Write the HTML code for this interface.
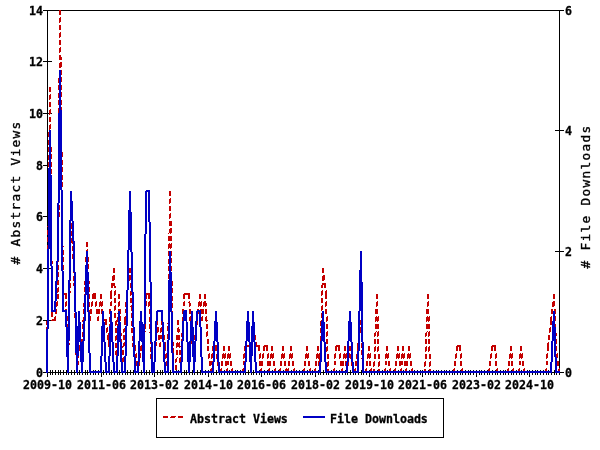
<!DOCTYPE html><html><head><meta charset="utf-8"><title>Abstract Views and File Downloads</title>
<style>html,body{margin:0;padding:0;background:#fff}svg{display:block}text{font-family:"DejaVu Sans Mono","Liberation Mono",monospace;font-weight:bold;fill:#000;stroke:#000;stroke-width:.3px}.t{font-weight:normal;stroke:#000;stroke-width:.35px}</style></head><body>
<svg width="600" height="450" viewBox="0 0 600 450">
<rect width="600" height="450" fill="#fff"/>
<g stroke="#000" stroke-width="1" shape-rendering="crispEdges" fill="none">
<rect x="47.5" y="10.5" width="512" height="362"/>
<path d="M43 372.5H52M43 320.5H52M43 268.5H52M43 216.5H52M43 165.5H52M43 113.5H52M43 61.5H52M43 10.5H52M555 372.5H564M555 251.5H564M555 130.5H564M555 10.5H564M47.5 370V377M50.5 370V375M52.5 370V375M55.5 370V375M58.5 370V375M60.5 370V375M63.5 370V375M66.5 370V375M68.5 370V375M71.5 370V375M74.5 370V375M77.5 370V375M79.5 370V375M82.5 370V375M85.5 370V375M87.5 370V375M90.5 370V375M93.5 370V375M95.5 370V375M98.5 370V375M101.5 370V377M103.5 370V375M106.5 370V375M109.5 370V375M111.5 370V375M114.5 370V375M117.5 370V375M119.5 370V375M122.5 370V375M125.5 370V375M127.5 370V375M130.5 370V375M133.5 370V375M135.5 370V375M138.5 370V375M141.5 370V375M144.5 370V375M146.5 370V375M149.5 370V375M152.5 370V375M154.5 370V377M157.5 370V375M160.5 370V375M162.5 370V375M165.5 370V375M168.5 370V375M170.5 370V375M173.5 370V375M176.5 370V375M178.5 370V375M181.5 370V375M184.5 370V375M186.5 370V375M189.5 370V375M192.5 370V375M194.5 370V375M197.5 370V375M200.5 370V375M202.5 370V375M205.5 370V375M208.5 370V377M211.5 370V375M213.5 370V375M216.5 370V375M219.5 370V375M221.5 370V375M224.5 370V375M227.5 370V375M229.5 370V375M232.5 370V375M235.5 370V375M237.5 370V375M240.5 370V375M243.5 370V375M245.5 370V375M248.5 370V375M251.5 370V375M253.5 370V375M256.5 370V375M259.5 370V375M261.5 370V377M264.5 370V375M267.5 370V375M269.5 370V375M272.5 370V375M275.5 370V375M278.5 370V375M280.5 370V375M283.5 370V375M286.5 370V375M288.5 370V375M291.5 370V375M294.5 370V375M296.5 370V375M299.5 370V375M302.5 370V375M304.5 370V375M307.5 370V375M310.5 370V375M312.5 370V375M315.5 370V377M318.5 370V375M320.5 370V375M323.5 370V375M326.5 370V375M328.5 370V375M331.5 370V375M334.5 370V375M336.5 370V375M339.5 370V375M342.5 370V375M345.5 370V375M347.5 370V375M350.5 370V375M353.5 370V375M355.5 370V375M358.5 370V375M361.5 370V375M363.5 370V375M366.5 370V375M369.5 370V377M371.5 370V375M374.5 370V375M377.5 370V375M379.5 370V375M382.5 370V375M385.5 370V375M387.5 370V375M390.5 370V375M393.5 370V375M395.5 370V375M398.5 370V375M401.5 370V375M403.5 370V375M406.5 370V375M409.5 370V375M412.5 370V375M414.5 370V375M417.5 370V375M420.5 370V375M422.5 370V377M425.5 370V375M428.5 370V375M430.5 370V375M433.5 370V375M436.5 370V375M438.5 370V375M441.5 370V375M444.5 370V375M446.5 370V375M449.5 370V375M452.5 370V375M454.5 370V375M457.5 370V375M460.5 370V375M462.5 370V375M465.5 370V375M468.5 370V375M470.5 370V375M473.5 370V375M476.5 370V377M479.5 370V375M481.5 370V375M484.5 370V375M487.5 370V375M489.5 370V375M492.5 370V375M495.5 370V375M497.5 370V375M500.5 370V375M503.5 370V375M505.5 370V375M508.5 370V375M511.5 370V375M513.5 370V375M516.5 370V375M519.5 370V375M521.5 370V375M524.5 370V375M527.5 370V375M529.5 370V377M532.5 370V375M535.5 370V375M537.5 370V375M540.5 370V375M543.5 370V375M546.5 370V375M548.5 370V375M551.5 370V375M554.5 370V375M556.5 370V375M559.5 370V375"/>
<rect x="156.5" y="398.5" width="287" height="39"/>
</g>
<g fill="none" shape-rendering="crispEdges" stroke-linecap="butt">
<path stroke="#c40000" stroke-width="1" stroke-dasharray="5 3 5 2" d="M49.49 87L46.47 373M49.52 87L51.52 321M52 319.5L56 319.5M57.54 294L54.42 321M59.48 10L57.48 295M59.51 10L62.53 295M63 293.5L67 293.5M65.51 294L67.53 373M70.49 216L67.47 373M70.49 216L73.55 269M73.51 268L76.53 373M78.52 346L76.44 373M79 345.5L83 345.5M84.51 294L81.45 347M86.5 242L84.46 295M86.5 242L89.54 321M92.54 294L89.42 321M93 293.5L96 293.5M94.46 294L97.58 321M100.54 294L97.42 321M100.48 294L102.56 321M103 319.5L107 319.5M105.46 320L108.58 347M110.5 294L108.46 347M113.54 268L110.42 295M113.51 268L116.53 373M118.49 294L116.47 373M118.5 294L121.54 373M124.51 320L121.45 373M126.52 294L124.44 321M129.54 268L126.42 295M129.5 268L132.54 347M133 345.5L136 345.5M134.46 346L137.58 373M140.54 346L137.42 373M141 345.5L145 345.5M145.5 294L143.46 347M146 293.5L150 293.5M148.5 294L151.54 373M152 371.5L155 371.5M156.51 320L153.45 373M156.46 320L159.58 347M161.52 320L159.44 347M161.46 320L164.58 347M164.46 346L167.58 373M169.49 191L167.47 373M169.51 191L172.53 373M173 371.5L177 371.5M177.5 320L175.46 373M177.49 320L180.55 373M183.5 294L180.46 373M184 293.5L187 293.5M186 293.5L190 293.5M188.49 294L191.55 347M192 345.5L195 345.5M196.54 320L193.42 347M199.54 294L196.42 321M199.48 294L201.56 321M204.54 294L201.42 321M204.49 294L207.55 347M207.46 346L210.58 373M212.52 346L210.44 373M213 345.5L217 345.5M215.46 346L218.58 373M219 371.5L222 371.5M223.54 346L220.42 373M223.46 346L226.58 373M228.52 346L226.44 373M228.46 346L231.58 373M232 371.5L236 371.5M235 371.5L238 371.5M237 371.5L241 371.5M240 371.5L244 371.5M244.52 346L242.44 373M245 345.5L249 345.5M248 345.5L252 345.5M252.52 320L250.44 347M252.46 320L255.58 347M256 345.5L260 345.5M258.48 346L260.56 373M263.54 346L260.42 373M264 345.5L268 345.5M266.48 346L268.56 373M271.54 346L268.42 373M271.46 346L274.58 373M275 371.5L279 371.5M278 371.5L281 371.5M282.54 346L279.42 373M282.46 346L285.58 373M286 371.5L289 371.5M290.54 346L287.42 373M290.46 346L293.58 373M294 371.5L297 371.5M296 371.5L300 371.5M299 371.5L303 371.5M302 371.5L305 371.5M306.54 346L303.42 373M306.46 346L309.58 373M310 371.5L313 371.5M312 371.5L316 371.5M317.54 346L314.42 373M317.48 346L319.56 373M322.49 268L319.47 373M322.46 268L325.58 295M325.51 294L327.53 373M328 371.5L332 371.5M331 371.5L335 371.5M335.52 346L333.44 373M336 345.5L340 345.5M338.46 346L341.58 373M344.54 346L341.42 373M344.48 346L346.56 373M349.54 346L346.42 373M349.46 346L352.58 373M353 371.5L356 371.5M357.54 346L354.42 373M360.54 320L357.42 347M360.5 320L362.54 373M363 371.5L367 371.5M368.54 346L365.42 373M368.48 346L370.56 373M371 371.5L375 371.5M376.5 294L373.46 373M376.51 294L378.53 373M379 371.5L383 371.5M382 371.5L386 371.5M386.52 346L384.44 373M386.46 346L389.58 373M390 371.5L394 371.5M393 371.5L396 371.5M397.54 346L394.42 373M397.46 346L400.58 373M402.52 346L400.44 373M402.46 346L405.58 373M408.54 346L405.42 373M408.46 346L411.58 373M412 371.5L415 371.5M414 371.5L418 371.5M417 371.5L421 371.5M420 371.5L423 371.5M422 371.5L426 371.5M427.5 294L424.46 373M427.51 294L429.53 373M430 371.5L434 371.5M433 371.5L437 371.5M436 371.5L439 371.5M438 371.5L442 371.5M441 371.5L445 371.5M444 371.5L447 371.5M446 371.5L450 371.5M449 371.5L453 371.5M452 371.5L455 371.5M456.54 346L453.42 373M457 345.5L461 345.5M459.48 346L461.56 373M462 371.5L466 371.5M465 371.5L469 371.5M468 371.5L471 371.5M470 371.5L474 371.5M473 371.5L477 371.5M476 371.5L480 371.5M479 371.5L482 371.5M481 371.5L485 371.5M484 371.5L488 371.5M487 371.5L490 371.5M491.54 346L488.42 373M492 345.5L496 345.5M494.48 346L496.56 373M497 371.5L501 371.5M500 371.5L504 371.5M503 371.5L506 371.5M505 371.5L509 371.5M510.54 346L507.42 373M510.48 346L512.56 373M513 371.5L517 371.5M516 371.5L520 371.5M520.52 346L518.44 373M520.46 346L523.58 373M524 371.5L528 371.5M527 371.5L530 371.5M529 371.5L533 371.5M532 371.5L536 371.5M535 371.5L538 371.5M537 371.5L541 371.5M540 371.5L544 371.5M543 371.5L547 371.5M547.52 346L545.44 373M550.54 320L547.42 347M553.54 294L550.42 321M553.5 294L555.54 347M555.46 346L558.58 373"/>
<path stroke="#c40000" stroke-width="1" stroke-dasharray="5 2 5 3" d="M50.49 87L47.47 373M50.52 87L52.52 321M52 320.5L56 320.5M58.54 294L55.42 321M60.48 10L58.48 295M60.51 10L63.53 295M63 294.5L67 294.5M66.51 294L68.53 373M71.49 216L68.47 373M71.49 216L74.55 269M74.51 268L77.53 373M79.52 346L77.44 373M79 346.5L83 346.5M85.51 294L82.45 347M87.5 242L85.46 295M87.5 242L90.54 321M93.54 294L90.42 321M93 294.5L96 294.5M95.46 294L98.58 321M101.54 294L98.42 321M101.48 294L103.56 321M103 320.5L107 320.5M106.46 320L109.58 347M111.5 294L109.46 347M114.54 268L111.42 295M114.51 268L117.53 373M119.49 294L117.47 373M119.5 294L122.54 373M125.51 320L122.45 373M127.52 294L125.44 321M130.54 268L127.42 295M130.5 268L133.54 347M133 346.5L136 346.5M135.46 346L138.58 373M141.54 346L138.42 373M141 346.5L145 346.5M146.5 294L144.46 347M146 294.5L150 294.5M149.5 294L152.54 373M152 372.5L155 372.5M157.51 320L154.45 373M157.46 320L160.58 347M162.52 320L160.44 347M162.46 320L165.58 347M165.46 346L168.58 373M170.49 191L168.47 373M170.51 191L173.53 373M173 372.5L177 372.5M178.5 320L176.46 373M178.49 320L181.55 373M184.5 294L181.46 373M184 294.5L187 294.5M186 294.5L190 294.5M189.49 294L192.55 347M192 346.5L195 346.5M197.54 320L194.42 347M200.54 294L197.42 321M200.48 294L202.56 321M205.54 294L202.42 321M205.49 294L208.55 347M208.46 346L211.58 373M213.52 346L211.44 373M213 346.5L217 346.5M216.46 346L219.58 373M219 372.5L222 372.5M224.54 346L221.42 373M224.46 346L227.58 373M229.52 346L227.44 373M229.46 346L232.58 373M232 372.5L236 372.5M235 372.5L238 372.5M237 372.5L241 372.5M240 372.5L244 372.5M245.52 346L243.44 373M245 346.5L249 346.5M248 346.5L252 346.5M253.52 320L251.44 347M253.46 320L256.58 347M256 346.5L260 346.5M259.48 346L261.56 373M264.54 346L261.42 373M264 346.5L268 346.5M267.48 346L269.56 373M272.54 346L269.42 373M272.46 346L275.58 373M275 372.5L279 372.5M278 372.5L281 372.5M283.54 346L280.42 373M283.46 346L286.58 373M286 372.5L289 372.5M291.54 346L288.42 373M291.46 346L294.58 373M294 372.5L297 372.5M296 372.5L300 372.5M299 372.5L303 372.5M302 372.5L305 372.5M307.54 346L304.42 373M307.46 346L310.58 373M310 372.5L313 372.5M312 372.5L316 372.5M318.54 346L315.42 373M318.48 346L320.56 373M323.49 268L320.47 373M323.46 268L326.58 295M326.51 294L328.53 373M328 372.5L332 372.5M331 372.5L335 372.5M336.52 346L334.44 373M336 346.5L340 346.5M339.46 346L342.58 373M345.54 346L342.42 373M345.48 346L347.56 373M350.54 346L347.42 373M350.46 346L353.58 373M353 372.5L356 372.5M358.54 346L355.42 373M361.54 320L358.42 347M361.5 320L363.54 373M363 372.5L367 372.5M369.54 346L366.42 373M369.48 346L371.56 373M371 372.5L375 372.5M377.5 294L374.46 373M377.51 294L379.53 373M379 372.5L383 372.5M382 372.5L386 372.5M387.52 346L385.44 373M387.46 346L390.58 373M390 372.5L394 372.5M393 372.5L396 372.5M398.54 346L395.42 373M398.46 346L401.58 373M403.52 346L401.44 373M403.46 346L406.58 373M409.54 346L406.42 373M409.46 346L412.58 373M412 372.5L415 372.5M414 372.5L418 372.5M417 372.5L421 372.5M420 372.5L423 372.5M422 372.5L426 372.5M428.5 294L425.46 373M428.51 294L430.53 373M430 372.5L434 372.5M433 372.5L437 372.5M436 372.5L439 372.5M438 372.5L442 372.5M441 372.5L445 372.5M444 372.5L447 372.5M446 372.5L450 372.5M449 372.5L453 372.5M452 372.5L455 372.5M457.54 346L454.42 373M457 346.5L461 346.5M460.48 346L462.56 373M462 372.5L466 372.5M465 372.5L469 372.5M468 372.5L471 372.5M470 372.5L474 372.5M473 372.5L477 372.5M476 372.5L480 372.5M479 372.5L482 372.5M481 372.5L485 372.5M484 372.5L488 372.5M487 372.5L490 372.5M492.54 346L489.42 373M492 346.5L496 346.5M495.48 346L497.56 373M497 372.5L501 372.5M500 372.5L504 372.5M503 372.5L506 372.5M505 372.5L509 372.5M511.54 346L508.42 373M511.48 346L513.56 373M513 372.5L517 372.5M516 372.5L520 372.5M521.52 346L519.44 373M521.46 346L524.58 373M524 372.5L528 372.5M527 372.5L530 372.5M529 372.5L533 372.5M532 372.5L536 372.5M535 372.5L538 372.5M537 372.5L541 372.5M540 372.5L544 372.5M543 372.5L547 372.5M548.52 346L546.44 373M551.54 320L548.42 347M554.54 294L551.42 321M554.5 294L556.54 347M556.46 346L559.58 373"/>
<path stroke="#0000c4" stroke-width="2" d="M49.99 130L46.97 373M50.01 130L52.03 312M52 311L56 311M58 251L54.95 312M59.99 70L57.97 252M60.01 70L63.03 312M63 311L67 311M66 311L68.04 373M70.99 191L67.97 373M70.99 191L74.05 252M74.01 251L77.03 373M79 311L76.96 373M79 311L82.04 373M85 311L81.96 373M87 251L84.96 312M87.01 251L90.03 373M90 372L94 372M93 372L96 372M95 372L99 372M98 372L102 372M103 311L100.96 373M103 311L106.04 373M106 372L110 372M111 311L108.96 373M111 311L114.04 373M114 372L118 372M119 311L116.96 373M119 311L122.04 373M122 372L126 372M127 311L124.96 373M129.99 191L126.97 312M130.01 191L133.03 312M133 311L135.04 373M135 372L139 372M141 311L137.96 373M141 311L144.04 373M145.99 191L143.97 373M146 191L150 191M149.01 191L152.03 373M152 372L155 372M157 311L153.96 373M157 311L161 311M160 311L163 311M162 311L165.04 373M165 372L169 372M169.99 251L167.97 373M170.01 251L173.03 373M173 372L177 372M176 372L179 372M178 372L182 372M184 311L180.96 373M184 311L187 311M186 311L189.04 373M192 311L188.96 373M192 311L194.04 373M197 311L193.96 373M197 311L201 311M200 311L202.04 373M202 372L206 372M205 372L209 372M208 372L212 372M211 372L214 372M216 311L212.96 373M216 311L219.04 373M219 372L222 372M221 372L225 372M224 372L228 372M227 372L230 372M229 372L233 372M232 372L236 372M235 372L238 372M237 372L241 372M240 372L244 372M243 372L246 372M248 311L244.96 373M248 311L251.04 373M253 311L250.96 373M253 311L256.04 373M256 372L260 372M259 372L262 372M261 372L265 372M264 372L268 372M267 372L270 372M269 372L273 372M272 372L276 372M275 372L279 372M278 372L281 372M280 372L284 372M283 372L287 372M286 372L289 372M288 372L292 372M291 372L295 372M294 372L297 372M296 372L300 372M299 372L303 372M302 372L305 372M304 372L308 372M307 372L311 372M310 372L313 372M312 372L316 372M315 372L319 372M318 372L321 372M323 311L319.96 373M323 311L326.04 373M326 372L329 372M328 372L332 372M331 372L335 372M334 372L337 372M336 372L340 372M339 372L343 372M342 372L346 372M345 372L348 372M350 311L346.96 373M350 311L353.04 373M353 372L356 372M355 372L359 372M360.99 251L357.97 373M361.01 251L363.03 373M363 372L367 372M366 372L370 372M369 372L372 372M371 372L375 372M374 372L378 372M377 372L380 372M379 372L383 372M382 372L386 372M385 372L388 372M387 372L391 372M390 372L394 372M393 372L396 372M395 372L399 372M398 372L402 372M401 372L404 372M403 372L407 372M406 372L410 372M409 372L413 372M412 372L415 372M414 372L418 372M417 372L421 372M420 372L423 372M422 372L426 372M425 372L429 372M428 372L431 372M430 372L434 372M433 372L437 372M436 372L439 372M438 372L442 372M441 372L445 372M444 372L447 372M446 372L450 372M449 372L453 372M452 372L455 372M454 372L458 372M457 372L461 372M460 372L463 372M462 372L466 372M465 372L469 372M468 372L471 372M470 372L474 372M473 372L477 372M476 372L480 372M479 372L482 372M481 372L485 372M484 372L488 372M487 372L490 372M489 372L493 372M492 372L496 372M495 372L498 372M497 372L501 372M500 372L504 372M503 372L506 372M505 372L509 372M508 372L512 372M511 372L514 372M513 372L517 372M516 372L520 372M519 372L522 372M521 372L525 372M524 372L528 372M527 372L530 372M529 372L533 372M532 372L536 372M535 372L538 372M537 372L541 372M540 372L544 372M543 372L547 372M546 372L549 372M548 372L552 372M554 311L550.96 373M554 311L556.04 373M556 372L560 372"/>
</g>
<g fill="none" stroke-width="2" shape-rendering="crispEdges">
<path stroke="#c40000" stroke-width="1" stroke-dasharray="5 3 5 2" d="M163 416.5H185"/>
<path stroke="#c40000" stroke-width="1" stroke-dasharray="5 2 5 3" d="M163 417.5H185"/>
<path stroke="#0000c4" d="M303 417H325"/>
</g>
<text transform="translate(36.0 376.5) scale(0.9690 1)" font-size="12.0">0</text>
<text transform="translate(36.0 324.5) scale(0.9690 1)" font-size="12.0">2</text>
<text transform="translate(36.0 272.5) scale(0.9690 1)" font-size="12.0">4</text>
<text transform="translate(36.0 220.5) scale(0.9690 1)" font-size="12.0">6</text>
<text transform="translate(36.0 169.5) scale(0.9690 1)" font-size="12.0">8</text>
<text transform="translate(29.0 117.5) scale(0.9690 1)" font-size="12.0">10</text>
<text transform="translate(29.0 65.5) scale(0.9690 1)" font-size="12.0">12</text>
<text transform="translate(29.0 14.5) scale(0.9690 1)" font-size="12.0">14</text>
<text transform="translate(565.0 376.5) scale(0.9690 1)" font-size="12.0">0</text>
<text transform="translate(565.0 255.5) scale(0.9690 1)" font-size="12.0">2</text>
<text transform="translate(565.0 134.5) scale(0.9690 1)" font-size="12.0">4</text>
<text transform="translate(565.0 14.5) scale(0.9690 1)" font-size="12.0">6</text>
<text transform="translate(23.0 389.4) scale(0.9690 1)" font-size="12.0">2009-10</text>
<text transform="translate(77.0 389.4) scale(0.9690 1)" font-size="12.0">2011-06</text>
<text transform="translate(130.0 389.4) scale(0.9690 1)" font-size="12.0">2013-02</text>
<text transform="translate(184.0 389.4) scale(0.9690 1)" font-size="12.0">2014-10</text>
<text transform="translate(237.0 389.4) scale(0.9690 1)" font-size="12.0">2016-06</text>
<text transform="translate(291.0 389.4) scale(0.9690 1)" font-size="12.0">2018-02</text>
<text transform="translate(345.0 389.4) scale(0.9690 1)" font-size="12.0">2019-10</text>
<text transform="translate(398.0 389.4) scale(0.9690 1)" font-size="12.0">2021-06</text>
<text transform="translate(452.0 389.4) scale(0.9690 1)" font-size="12.0">2023-02</text>
<text transform="translate(505.0 389.4) scale(0.9690 1)" font-size="12.0">2024-10</text>
<text transform="translate(190.0 422.5) scale(0.9690 1)" font-size="12.0">Abstract Views</text>
<text transform="translate(330.0 422.5) scale(0.9690 1)" font-size="12.0">File Downloads</text>
<text class="t" transform="translate(20 264.5) rotate(-90)" letter-spacing="1.29" font-size="12.8"># Abstract Views</text>
<text class="t" transform="translate(590 268.5) rotate(-90)" letter-spacing="1.29" font-size="12.8"># File Downloads</text>
</svg></body></html>
